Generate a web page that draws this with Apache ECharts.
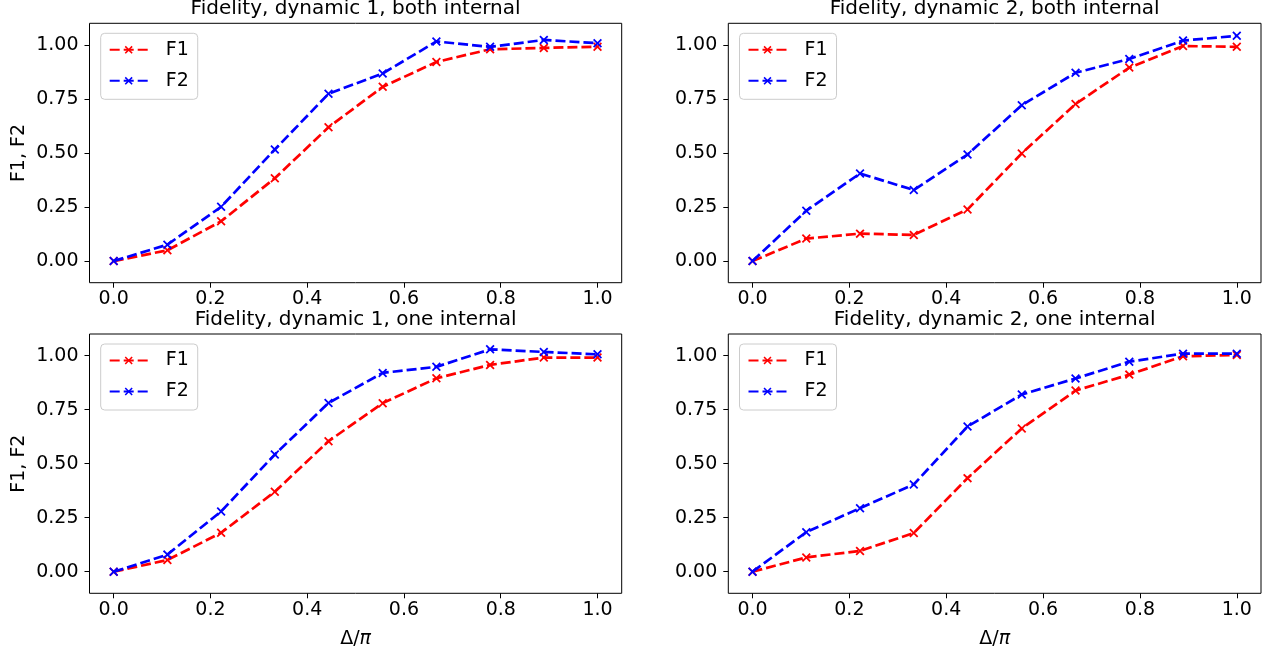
<!DOCTYPE html>
<html>
<head>
<meta charset="utf-8">
<script src="https://cdn.jsdelivr.net/npm/echarts@6/dist/echarts.min.js"></script>
<style>
html,body{margin:0;padding:0;background:#fff;}
#chart{width:1271px;height:653px;}
</style>
</head>
<body>
<div id="chart"></div>
<script>
// ---- data ----
const xValues = [0, 0.111, 0.222, 0.333, 0.444, 0.556, 0.667, 0.778, 0.889, 1.0];
const xTicks = [0, 0.2, 0.4, 0.6, 0.8, 1.0];
const yTicks = [0, 0.25, 0.5, 0.75, 1.0];
const titles = [
  'Fidelity, dynamic 1, both internal',
  'Fidelity, dynamic 2, both internal',
  'Fidelity, dynamic 1, one internal',
  'Fidelity, dynamic 2, one internal'
];
const d1BothF1 = [0.0, 0.05, 0.184, 0.383, 0.619, 0.806, 0.921, 0.98, 0.986, 0.992];
const d1BothF2 = [0.0, 0.076, 0.251, 0.516, 0.774, 0.868, 1.016, 0.991, 1.023, 1.008];
const d2BothF1 = [0.0, 0.104, 0.127, 0.121, 0.239, 0.498, 0.727, 0.895, 0.995, 0.991];
const d2BothF2 = [0.0, 0.233, 0.405, 0.329, 0.493, 0.721, 0.871, 0.935, 1.02, 1.042];
const d1OneF1 = [0.0, 0.054, 0.18, 0.37, 0.604, 0.78, 0.895, 0.957, 0.991, 0.991];
const d1OneF2 = [0.0, 0.079, 0.279, 0.542, 0.781, 0.92, 0.948, 1.029, 1.017, 1.006];
const d2OneF1 = [0.0, 0.066, 0.096, 0.179, 0.433, 0.663, 0.838, 0.912, 0.997, 1.003];
const d2OneF2 = [0.0, 0.183, 0.294, 0.404, 0.672, 0.82, 0.894, 0.972, 1.009, 1.009];
const panelsF1 = [d1BothF1, d2BothF1, d1OneF1, d2OneF1];
const panelsF2 = [d1BothF2, d2BothF2, d1OneF2, d2OneF2];
const seriesNames = ['F1', 'F2'];
const yAxisName = 'F1, F2';

// ---- layout ----
const FONT = 'DejaVu Sans';
const grids = [
  {left: 89.5, top: 23.3, width: 532.2, height: 259.4},
  {left: 728.3, top: 23.3, width: 532.7, height: 259.4},
  {left: 89.5, top: 334, width: 532.2, height: 259.3},
  {left: 728.3, top: 334, width: 532.7, height: 259.3}
];
const titleTops = [-1.5, -1.5, 309.5, 309.5];
const XMARK = 'path://M0,1.4L1.4,0L5,3.6L8.6,0L10,1.4L6.4,5L10,8.6L8.6,10L5,6.4L1.4,10L0,8.6L3.6,5Z';
const colors = ['#ff0000', '#0000ff'];

const option = {
  animation: false,
  backgroundColor: '#ffffff',
  textStyle: {fontFamily: FONT},
  title: grids.map((g, i) => ({
    text: titles[i],
    left: g.left + g.width / 2,
    top: titleTops[i],
    textAlign: 'center',
    padding: 0,
    textStyle: {fontFamily: FONT, fontSize: 20, fontWeight: 'normal', color: '#000'}
  })),
  legend: grids.map((g, i) => ({
    data: seriesNames,
    orient: 'vertical',
    left: g.left + 11.2,
    top: g.top + 10,
    padding: [7, 7, 9, 8],
    itemWidth: 38,
    itemHeight: 10,
    itemGap: 12,
    backgroundColor: 'rgba(255,255,255,0.8)',
    borderColor: '#cccccc',
    borderWidth: 1,
    borderRadius: 4,
    selectedMode: false,
    textStyle: {fontFamily: FONT, fontSize: 19, color: '#000', lineHeight: 18, padding: [0, 2, 0, 13]}
  })),
  grid: grids.map(g => Object.assign({show: true, borderColor: '#000', borderWidth: 1, backgroundColor: 'transparent', containLabel: false}, g)),
  xAxis: grids.map((g, i) => ({
    type: 'value',
    gridIndex: i,
    min: -0.05,
    max: 1.05,
    name: i >= 2 ? '{a|Δ/}{b|π}' : '',
    nameLocation: 'middle',
    nameGap: 36,
    nameTextStyle: {
      fontFamily: FONT, fontSize: 19, color: '#000',
      rich: {a: {fontFamily: FONT, fontSize: 19, color: '#000'}, b: {fontFamily: FONT, fontSize: 19, fontStyle: 'italic', color: '#000'}}
    },
    axisLine: {show: false, onZero: false},
    splitLine: {show: false},
    axisTick: {show: true, inside: false, length: 5, customValues: xTicks, lineStyle: {color: '#000', width: 1}},
    axisLabel: {
      customValues: xTicks, margin: 7, fontFamily: FONT, fontSize: 19, color: '#000',
      formatter: v => v.toFixed(1)
    }
  })),
  yAxis: grids.map((g, i) => ({
    type: 'value',
    gridIndex: i,
    min: -0.1,
    max: 1.1,
    name: (i % 2 === 0) ? yAxisName : '',
    nameLocation: 'middle',
    nameGap: 61,
    nameRotate: 90,
    nameTextStyle: {fontFamily: FONT, fontSize: 19, color: '#000'},
    axisLine: {show: false, onZero: false},
    splitLine: {show: false},
    axisTick: {show: true, inside: false, length: 5, customValues: yTicks, lineStyle: {color: '#000', width: 1}},
    axisLabel: {
      customValues: yTicks, margin: 11, fontFamily: FONT, fontSize: 19, color: '#000',
      formatter: v => v.toFixed(2)
    }
  })),
  series: []
};

for (let p = 0; p < 4; p++) {
  [panelsF1[p], panelsF2[p]].forEach((vals, k) => {
    option.series.push({
      type: 'line',
      name: seriesNames[k],
      xAxisIndex: p,
      yAxisIndex: p,
      data: xValues.map((x, j) => [x, vals[j]]),
      symbol: XMARK,
      symbolSize: 9,
      showSymbol: true,
      color: colors[k],
      itemStyle: {color: colors[k]},
      lineStyle: {color: colors[k], width: 2.7, type: [10, 4]},
      z: 2 + k
    });
  });
}

const chart = echarts.init(document.getElementById('chart'), null, {renderer: 'canvas'});
chart.setOption(option);
</script>
</body>
</html>
